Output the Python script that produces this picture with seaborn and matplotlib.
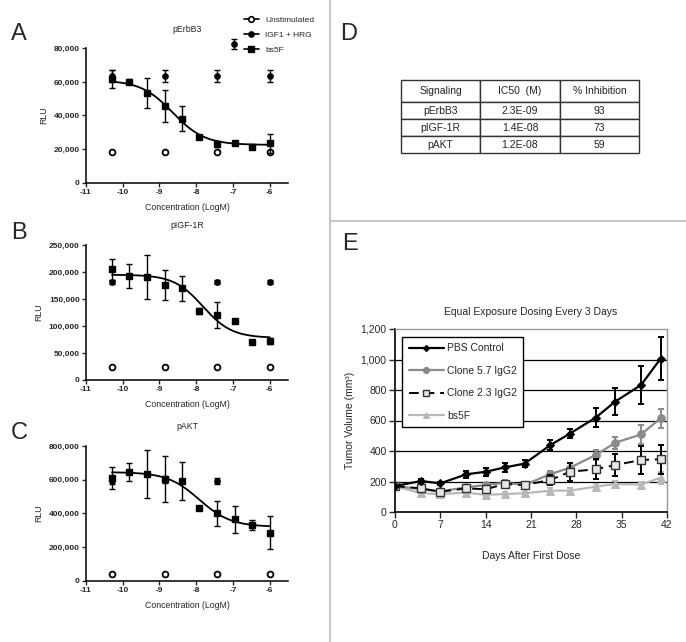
import numpy as np
import pandas as pd
import matplotlib
matplotlib.use("Agg")
import matplotlib.pyplot as plt
import seaborn as sns
from matplotlib.lines import Line2D
from matplotlib.ticker import FuncFormatter

sns.set_style("white")
plt.rcParams['font.family'] = ['Liberation Sans', 'DejaVu Sans']
plt.rcParams['axes.unicode_minus'] = False

# ---- dose response data (log M) ----
conc = [-10.29, -9.82, -9.34, -8.86, -8.39, -7.91, -7.43, -6.95, -6.48, -6.0]
stim_conc = [-10.29, -8.86, -7.43, -6.0]

# pErbB3
erb_bs5f = [61700, 60000, 53600, 45700, 38100, 27400, 23000, 23400, 21400, 23400]
erb_bs5f_err = [5500, 1500, 9000, 9500, 7500, 1000, 2000, 1000, 1000, 5500]
erb_igf_x = [-10.29, -8.86, -7.43, -6.0, -6.98]
erb_igf = [63500, 63500, 63500, 63500, 82500]
erb_igf_err = [3500, 3500, 3500, 3500, 3000]
erb_unstim = [18500, 18500, 18500, 18500]
erb_fit = (61000, 22500, -8.64, 1.0)  # top, bottom, logIC50, hill

# pIGF-1R
igf_bs5f = [205000, 192600, 191000, 176000, 170000, 128000, 120000, 110000, 71000, 72000]
igf_bs5f_err = [20000, 22000, 41000, 28000, 23000, 5000, 24000, 3000, 3000, 5000]
igf_igf_x = [-10.29, -7.43, -6.0]
igf_igf = [182000, 182000, 182000]
igf_igf_err = [4000, 4000, 4000]
igf_unstim = [24700, 24700, 24700, 24700]
igf_fit = (195000, 78000, -7.82, 1.1)

# pAKT
akt_bs5f = [612000, 647000, 634000, 604000, 594000, 434000, 400000, 364000, 332000, 285000]
akt_bs5f_err = [65000, 52000, 140000, 135000, 112000, 8000, 73000, 78000, 30000, 98000]
akt_igf_x = [-10.29, -8.86, -7.43]
akt_igf = [595000, 600000, 592000]
akt_igf_err = [20000, 20000, 20000]
akt_unstim = [40000, 40000, 40000, 40000]
akt_fit = (645000, 320000, -7.92, 1.0)

# ---- table D ----
table_cols = ["Signaling", "IC50  (M)", "% Inhibition"]
table_rows = [["pErbB3", "2.3E-09", "93"],
              ["pIGF-1R", "1.4E-08", "73"],
              ["pAKT", "1.2E-08", "59"]]

# ---- tumor growth E ----
days = [0, 4, 7, 11, 14, 17, 20, 24, 27, 31, 34, 38, 41]
pbs = [170, 203, 188, 247, 264, 293, 317, 439, 514, 619, 724, 833, 1005]
pbs_err = [10, 12, 10, 25, 25, 30, 25, 30, 30, 60, 90, 125, 140]
clone57 = [170, 150, 135, 162, 177, 192, 177, 249, 290, 374, 454, 509, 614]
clone57_err = [10, 10, 10, 15, 15, 15, 15, 20, 30, 35, 40, 60, 60]
clone23 = [170, 155, 133, 155, 149, 184, 177, 210, 264, 280, 308, 341, 346]
clone23_err = [10, 15, 15, 20, 20, 20, 20, 30, 60, 65, 70, 95, 95]
bs5f = [170, 123, 118, 127, 112, 118, 123, 140, 140, 166, 184, 180, 225]
bs5f_err = [10, 10, 10, 10, 10, 10, 10, 15, 15, 15, 20, 20, 40]

W, H = 686, 642
fig = plt.figure(figsize=(W / 100, H / 100), dpi=100)


def ax_px(l, t, r, b):
    return fig.add_axes([l / W, 1 - b / H, (r - l) / W, (b - t) / H])


comma = FuncFormatter(lambda v, p: f"{int(v):,}")


def dose_panel(ax, title, ymax, ystep, bs_y, bs_err, ig_x, ig_y, ig_err, un_y, fit):
    top, bottom, logic50, hill = fit
    xs = np.linspace(conc[0], conc[-1], 200)
    curve = pd.DataFrame({"x": xs, "y": bottom + (top - bottom) / (1 + 10 ** ((xs - logic50) * hill))})
    sns.lineplot(data=curve, x="x", y="y", ax=ax, color="black", lw=1.3)
    ax.errorbar(stim_conc, un_y, fmt="o", ms=4.2, mfc="white", mec="black", mew=1.3,
                color="black", zorder=3)
    ax.errorbar(ig_x, ig_y, yerr=ig_err, fmt="o", ms=3.8, color="black", capsize=2.2,
                elinewidth=1, capthick=1, clip_on=False, zorder=3)
    ax.errorbar(conc, bs_y, yerr=bs_err, fmt="s", ms=4.2, color="black", capsize=2.5,
                elinewidth=1, capthick=1, zorder=4)
    ax.set_xlim(-11, -5.5)
    ax.set_ylim(0, ymax)
    ax.set_xticks([-11, -10, -9, -8, -7, -6])
    ax.set_yticks(np.arange(0, ymax + 1, ystep))
    ax.yaxis.set_major_formatter(comma)
    for s in ["top", "right"]:
        ax.spines[s].set_visible(False)
    for s in ["left", "bottom"]:
        ax.spines[s].set_linewidth(1.1)
        ax.spines[s].set_color("black")
    ax.tick_params(axis="both", direction="out", length=3, width=1, labelsize=6,
                   bottom=True, left=True, pad=1.5)
    for lab in ax.get_xticklabels() + ax.get_yticklabels():
        lab.set_fontweight("bold")
    ax.set_title(title, fontsize=6.3, pad=12)
    ax.set_xlabel("Concentration (LogM)", fontsize=6.3, labelpad=5)
    ax.set_ylabel("RLU", fontsize=6.3, labelpad=4)


axA = ax_px(86, 48.3, 288, 182.7)
dose_panel(axA, "pErbB3", 80000, 20000, erb_bs5f, erb_bs5f_err, erb_igf_x, erb_igf,
           erb_igf_err, erb_unstim, erb_fit)
axB = ax_px(86, 245, 288, 380)
dose_panel(axB, "pIGF-1R", 250000, 50000, igf_bs5f, igf_bs5f_err, igf_igf_x, igf_igf,
           igf_igf_err, igf_unstim, igf_fit)
axC = ax_px(86, 446, 288, 580.7)
dose_panel(axC, "pAKT", 800000, 200000, akt_bs5f, akt_bs5f_err, akt_igf_x, akt_igf,
           akt_igf_err, akt_unstim, akt_fit)

# legend for A-C
handles = [
    Line2D([0], [0], color="black", lw=1.2, marker="o", ms=4, mfc="white", mec="black", mew=1.2),
    Line2D([0], [0], color="black", lw=1.2, marker="o", ms=3.8),
    Line2D([0], [0], color="black", lw=1.2, marker="s", ms=4),
]
fig.legend(handles, ["Unstimulated", "IGF1 + HRG", "bs5F"], loc="upper left",
           bbox_to_anchor=(236 / W, 1 - 9 / H), frameon=False, fontsize=6,
           handlelength=1.8, handletextpad=0.8, labelspacing=0.85)

# ---- D table ----
axD = ax_px(400.7, 80, 639.3, 153.3)
axD.axis("off")
tbl = axD.table(cellText=table_rows, colLabels=table_cols, cellLoc="center",
                bbox=[0, 0, 1, 1])
tbl.auto_set_font_size(False)
tbl.set_fontsize(7.5)
for (r, c), cell in tbl.get_celld().items():
    cell.set_edgecolor("#333333")
    cell.set_linewidth(1.0)
    cell.get_text().set_color("#222222")
    cell.set_height(0.30 if r == 0 else 0.233)

# ---- E tumor growth ----
axE = ax_px(395, 329, 667, 512)
tg = pd.DataFrame({"day": days, "PBS Control": pbs, "Clone 5.7 IgG2": clone57,
                   "Clone 2.3 IgG2": clone23, "bs5F": bs5f})
for y in [200, 400, 600, 800, 1000]:
    axE.axhline(y, color="black", lw=0.9, zorder=0)

axE.errorbar(days, bs5f, yerr=bs5f_err, fmt="none", ecolor="#b8b8b8", capsize=2.5,
             elinewidth=1.4, capthick=1.4, zorder=2)
sns.lineplot(data=tg, x="day", y="bs5F", ax=axE, color="#b8b8b8", lw=1.6, marker="^",
             ms=5.5, mec="#b8b8b8", label="bs5F", zorder=2)
axE.errorbar(days, clone57, yerr=clone57_err, fmt="none", ecolor="#8a8a8a", capsize=2.5,
             elinewidth=1.4, capthick=1.4, zorder=3)
sns.lineplot(data=tg, x="day", y="Clone 5.7 IgG2", ax=axE, color="#8a8a8a", lw=1.6,
             marker="o", ms=5.5, mec="#8a8a8a", label="Clone 5.7 IgG2", zorder=3)
axE.errorbar(days, clone23, yerr=clone23_err, fmt="none", ecolor="black", capsize=2.5,
             elinewidth=1.4, capthick=1.4, zorder=4)
axE.plot(days, clone23, color="black", lw=1.4, dashes=(5, 3), marker="s", ms=6,
         mfc="#e6e6e6", mec="#333333", mew=1.0, label="Clone 2.3 IgG2", zorder=4)
axE.errorbar(days, pbs, yerr=pbs_err, fmt="none", ecolor="black", capsize=2.5,
             elinewidth=1.4, capthick=1.4, zorder=5)
sns.lineplot(data=tg, x="day", y="PBS Control", ax=axE, color="black", lw=1.6,
             marker="D", ms=4, mec="black", label="PBS Control", zorder=5)

axE.set_xlim(0, 42)
axE.set_ylim(0, 1200)
axE.set_xticks(range(0, 43, 7))
axE.set_yticks(range(0, 1201, 200))
axE.yaxis.set_major_formatter(comma)
for s in ["top", "right"]:
    axE.spines[s].set_color("#9a9a9a")
    axE.spines[s].set_linewidth(1.0)
for s in ["left", "bottom"]:
    axE.spines[s].set_color("black")
    axE.spines[s].set_linewidth(1.2)
axE.tick_params(axis="both", direction="out", length=4, width=1, labelsize=7.5,
                bottom=True, left=True, pad=2)
axE.set_title("Equal Exposure Dosing Every 3 Days", fontsize=7.5, pad=10)
axE.set_xlabel("Days After First Dose", fontsize=7.5, labelpad=15)
axE.set_ylabel("Tumor Volume (mm³)", fontsize=7.5, labelpad=4)

h, l = axE.get_legend_handles_labels()
order = ["PBS Control", "Clone 5.7 IgG2", "Clone 2.3 IgG2", "bs5F"]
hmap = dict(zip(l, h))
leg = axE.legend([hmap[k] for k in order], order, loc="upper left",
                 bbox_to_anchor=(0.008, 0.985), fontsize=7.5, frameon=True,
                 fancybox=False, edgecolor="black", labelspacing=1.2,
                 handlelength=3.4, handletextpad=0.3, borderpad=0.6, markerscale=0.8)
leg.get_frame().set_linewidth(1.0)
leg.get_frame().set_alpha(1)

# ---- panel letters and separators ----
for letter, x, y in [("A", 11, 40), ("B", 11, 239), ("C", 11, 439), ("D", 340, 40), ("E", 342, 250)]:
    fig.text(x / W, 1 - y / H, letter, fontsize=17, va="baseline", ha="left")

fig.add_artist(Line2D([330 / W, 330 / W], [0, 1], color="#c8c8c8", lw=1.5,
                      transform=fig.transFigure))
fig.add_artist(Line2D([330 / W, 1], [1 - 220.7 / H, 1 - 220.7 / H], color="#c8c8c8", lw=1.5,
                      transform=fig.transFigure))

fig.savefig("out.png", dpi=100)
